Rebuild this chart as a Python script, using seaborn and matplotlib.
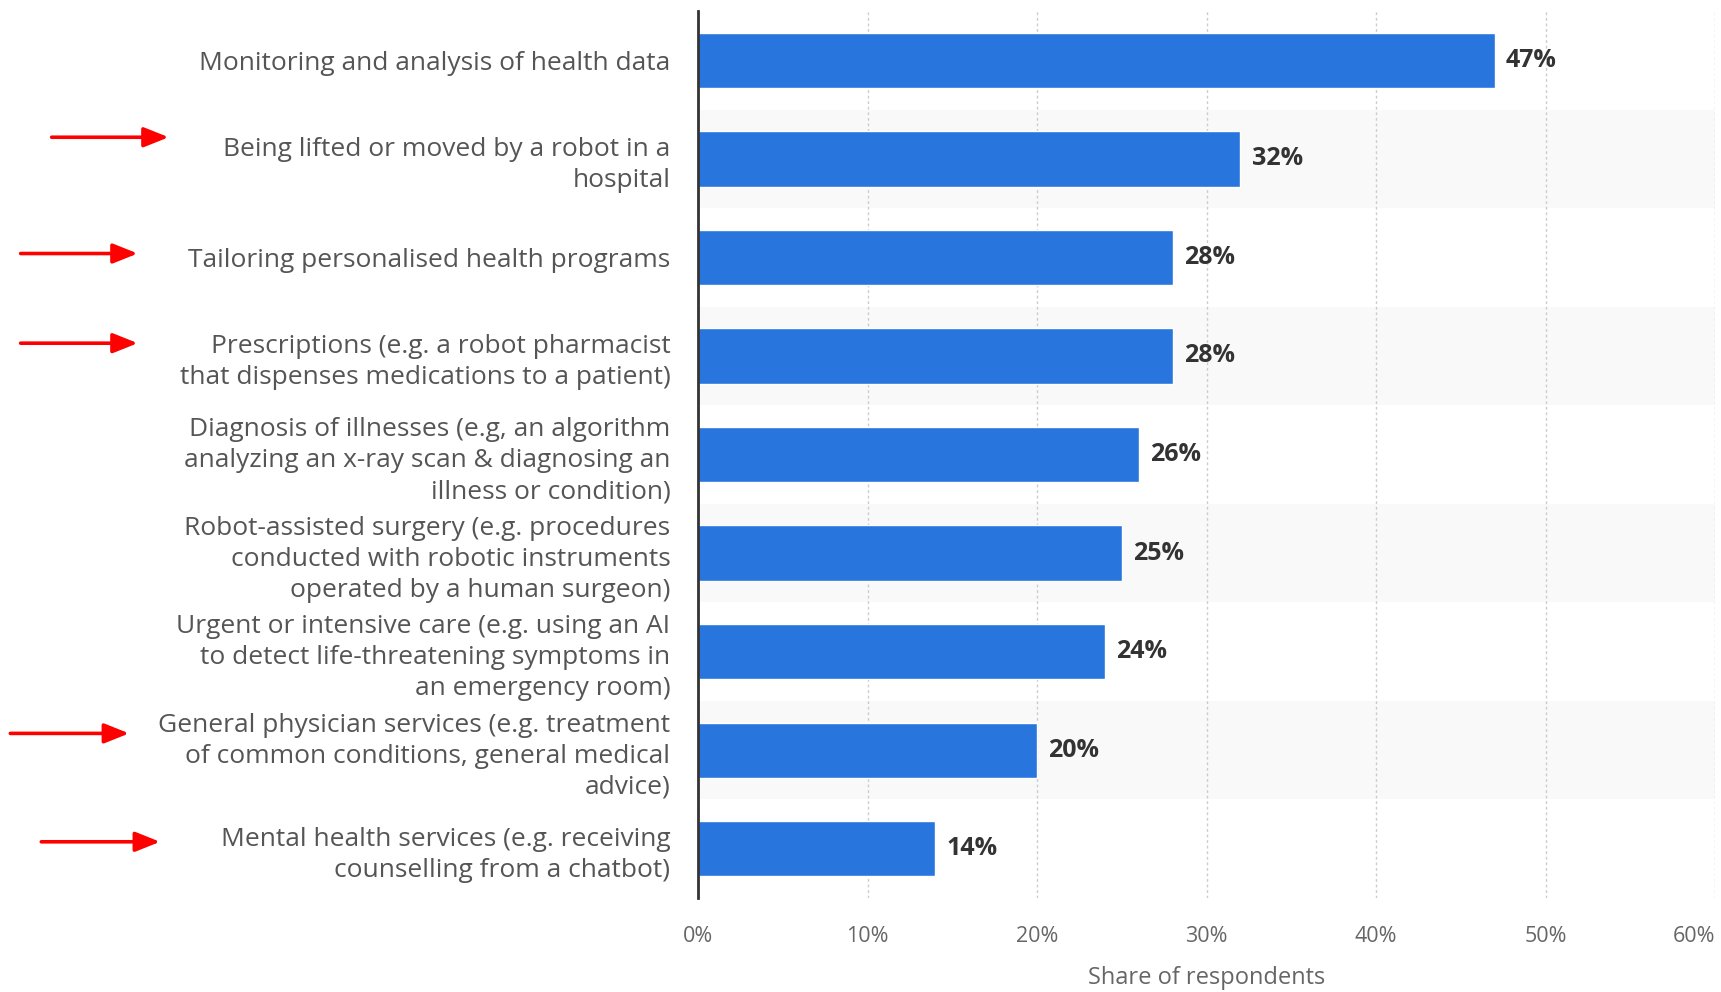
import matplotlib
matplotlib.use("Agg")
import matplotlib.pyplot as plt
import matplotlib.transforms as mtransforms
import seaborn as sns
import pandas as pd

categories = [
    "Monitoring and analysis of health data",
    "Being lifted or moved by a robot in a\nhospital",
    "Tailoring personalised health programs",
    "Prescriptions (e.g. a robot pharmacist\nthat dispenses medications to a patient)",
    "Diagnosis of illnesses (e.g, an algorithm\nanalyzing an x-ray scan & diagnosing an\nillness or condition)",
    "Robot-assisted surgery (e.g. procedures\nconducted with robotic instruments\noperated by a human surgeon)",
    "Urgent or intensive care (e.g. using an AI\nto detect life-threatening symptoms in\nan emergency room)",
    "General physician services (e.g. treatment\nof common conditions, general medical\nadvice)",
    "Mental health services (e.g. receiving\ncounselling from a chatbot)",
]
shares = [47, 32, 28, 28, 26, 25, 24, 20, 14]
x_ticks = [0, 10, 20, 30, 40, 50, 60]
x_tick_labels = ["0%", "10%", "20%", "30%", "40%", "50%", "60%"]
x_label = "Share of respondents"
highlighted_rows = [1, 2, 3, 7, 8]

df = pd.DataFrame({"category": categories, "share": shares})

sns.set_theme(style="white")
plt.rcParams["font.family"] = ["Open Sans", "DejaVu Sans"]

fig = plt.figure(figsize=(17.21, 9.92), dpi=100)
ax = fig.add_axes([0.4056, 0.0948, 0.591, 0.894])

# alternating row bands
for i in range(len(categories)):
    if i % 2 == 1:
        ax.axhspan(i - 0.5, i + 0.5, color="#f9f9f9", zorder=0, lw=0)

sns.barplot(data=df, x="share", y="category", color="#2876dd", orient="h",
            width=0.56, saturation=1, ax=ax, zorder=3)

ax.set_xlim(0, 60)
ax.set_ylim(len(categories) - 0.5, -0.5)
ax.set_xticks(x_ticks)
ax.set_xticklabels(x_tick_labels, color="#666666", fontsize=15.5)
ax.get_xticklabels()[-1].set_horizontalalignment("right")
ax.set_xlabel(x_label, color="#666666", fontsize=17, labelpad=14)
ax.set_ylabel("")
ax.tick_params(axis="x", length=0, pad=20)
ax.tick_params(axis="y", length=0, pad=20)
for lbl in ax.get_yticklabels():
    lbl.set_color("#555555")
    lbl.set_fontsize(19)
    lbl.set_linespacing(1.32)
    lbl.set_horizontalalignment("right")
    lbl.set_multialignment("right")

ax.grid(axis="x", color="#cccccc", linestyle=(0, (2, 2)), linewidth=1, zorder=1)
ax.set_axisbelow(True)
for s in ["top", "right", "bottom"]:
    ax.spines[s].set_visible(False)
ax.spines["left"].set_color("#333333")
ax.spines["left"].set_linewidth(2)
ax.spines["left"].set_zorder(5)

for cont in ax.containers:
    ax.bar_label(cont, labels=[f"{v}%" for v in shares], padding=8,
                 fontsize=18, fontweight="bold", color="#333333")

# red arrows pointing at highlighted categories
trans = mtransforms.blended_transform_factory(fig.transFigure, ax.transData)
arrow_x = {1: (0.030, 0.098), 2: (0.012, 0.080), 3: (0.012, 0.080),
           7: (0.006, 0.075), 8: (0.024, 0.093)}
arrow_dy = {1: -0.22, 2: -0.04, 3: -0.13, 7: -0.17, 8: -0.07}
for r in highlighted_rows:
    x0, x1 = arrow_x[r]
    y = r + arrow_dy[r]
    ax.annotate("", xy=(x1, y), xytext=(x0, y), xycoords=trans, textcoords=trans,
                arrowprops=dict(arrowstyle="-|>,head_length=0.75,head_width=0.3",
                                color="#ff0000", lw=2.6, shrinkA=0, shrinkB=0,
                                mutation_scale=20),
                annotation_clip=False)

fig.savefig("out.png", dpi=100)
